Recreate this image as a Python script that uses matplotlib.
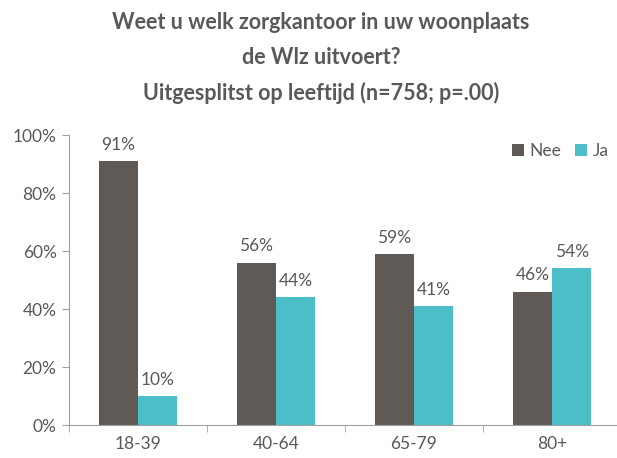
import numpy as np
import matplotlib.pyplot as plt

categories = ["18-39", "40-64", "65-79", "80+"]
nee = [91, 56, 59, 46]
ja = [10, 44, 41, 54]
series_names = ["Nee", "Ja"]
title = "Weet u welk zorgkantoor in uw woonplaats\nde Wlz uitvoert?\nUitgesplitst op leeftijd (n=758; p=.00)"

plt.rcParams['font.family'] = ['Lato', 'DejaVu Sans']
grey = "#595959"
c_nee = "#5f5a56"
c_ja = "#4bbec8"

fig = plt.figure(figsize=(6.17, 4.58), dpi=100)
ax = fig.add_axes([69 / 617, 33 / 458, 552 / 617, 290 / 458])

x = np.arange(len(categories))
w = 0.285
b1 = ax.bar(x - w / 2, nee, w, color=c_nee, label=series_names[0])
b2 = ax.bar(x + w / 2, ja, w, color=c_ja, label=series_names[1])

for bars in (b1, b2):
    for b in bars:
        ax.annotate(f"{b.get_height():.0f}%", (b.get_x() + b.get_width() / 2, b.get_height()),
                    xytext=(0, 6), textcoords="offset points", ha="center", va="bottom",
                    fontsize=12.5, color=grey)

ax.set_xlim(-0.5, len(categories) - 0.5)
ax.set_ylim(0, 100)
ax.set_yticks(range(0, 101, 20))
ax.set_yticklabels([f"{v}%" for v in range(0, 101, 20)])
ax.set_xticks(x)
ax.set_xticklabels(categories)
ax.set_xticks(np.arange(-0.5, len(categories), 1), minor=True)
ax.tick_params(axis="x", which="major", length=0, pad=8)
ax.tick_params(axis="x", which="minor", length=5, color="#a0a0a0")
ax.tick_params(axis="y", length=5, color="#a0a0a0", pad=4)
ax.tick_params(labelsize=12.5, labelcolor=grey)
for s in ["top", "right"]:
    ax.spines[s].set_visible(False)
for s in ["left", "bottom"]:
    ax.spines[s].set_color("#a0a0a0")

ax.legend(loc="upper left", bbox_to_anchor=(505 / 617, 1 - 136 / 458), bbox_transform=fig.transFigure,
          frameon=False, ncol=2, fontsize=12.5, handlelength=0.7, handleheight=0.7,
          handletextpad=0.3, columnspacing=0.8, labelcolor=grey, borderaxespad=0)

fig.text(0.52, 1 - 12 / 458, title, ha="center", va="top", fontsize=15.5, fontweight="bold",
         color=grey, linespacing=1.8)

fig.savefig("out.png", dpi=100)
